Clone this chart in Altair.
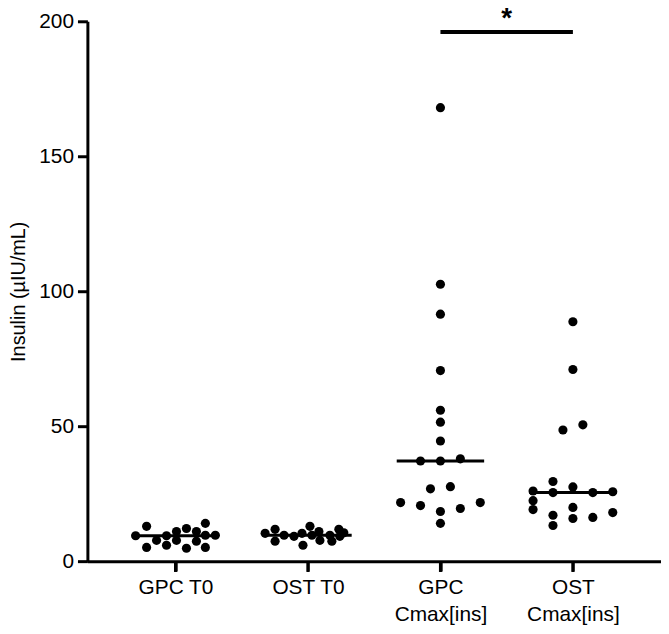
import json
import altair as alt
import pandas as pd

categories = ["GPC T0", "OST T0", "GPC Cmax[ins]", "OST Cmax[ins]"]

gpc_t0_vals = [9.4, 12.9, 5.1, 7.7, 9.4, 5.9, 11.0, 7.7, 12.1, 4.8, 11.0, 7.4, 14.0, 9.6, 5.1, 9.6]
gpc_t0_slot = [-40, -29, -29, -19, -9, -9, 1, 1, 11, 11, 21, 21, 30, 30, 30, 40]

ost_t0_vals = [10.3, 11.8, 7.4, 9.6, 9.2, 10.3, 5.9, 12.9, 9.6, 11.0, 7.7, 9.6, 7.4, 11.8, 9.2, 10.5]
ost_t0_slot = [-43, -33, -33, -24, -14, -6, -5, 2, 4, 11, 12, 22, 24, 31, 32, 36]

gpc_cmax_vals = [168.0, 102.6, 91.5, 70.6, 55.9, 51.5, 44.5, 37.1, 37.1, 37.9,
                 26.8, 27.6, 21.7, 20.6, 18.4, 19.5, 21.7, 14.0]
gpc_cmax_slot = [0, 0, 0, 0, 0, 0, 0, -20, 0, 20, -10, 10, -40, -20, 0, 20, 40, 0]

ost_cmax_vals = [88.7, 71.0, 48.6, 50.5, 29.5, 26.0, 25.4, 27.5, 25.4, 25.7,
                 22.4, 19.1, 19.9, 17.0, 15.8, 16.2, 18.0, 13.2]
ost_cmax_slot = [0, 0, -10, 10, -20, -40, -20, 0, 20, 40, -40, -40, 0, -20, 0, 20, 40, -20]

sig_from = [2]
sig_to = [3]
sig_level = [196]
sig_text = ["*"]

SLOT_PER_STEP = 133.0   # jitter slots are expressed per category step
HALF_MEDIAN = 0.33      # half-length of the median line, in category steps

rows = []
for i, (vals, slots) in enumerate(zip([gpc_t0_vals, ost_t0_vals, gpc_cmax_vals, ost_cmax_vals],
                                      [gpc_t0_slot, ost_t0_slot, gpc_cmax_slot, ost_cmax_slot])):
    for v, s in zip(vals, slots):
        rows.append({"idx": i, "value": v, "slot": s})
df = pd.DataFrame(rows)

cats_df = pd.DataFrame({"idx": list(range(len(categories)))})
sig = pd.DataFrame({"from": sig_from, "to": sig_to, "y": sig_level, "label": sig_text})

label_arr = json.dumps(categories)
xscale = alt.Scale(domain=[-0.665, 3.665], nice=False, zero=False)
yscale = alt.Scale(domain=[0, 200], nice=False)

xaxis = alt.Axis(
    title=None,
    values=list(range(len(categories))),
    labelExpr=f"indexof({label_arr}[datum.value], 'Cmax') >= 0 ? split({label_arr}[datum.value], ' ') : {label_arr}[datum.value]",
    labelLineHeight=27,
    labelPadding=6,
    labelAngle=0,
    ticks=True,
    zindex=1,
)
yaxis = alt.Axis(
    title="Insulin (µIU/mL)",
    values=[0, 50, 100, 150, 200],
    titlePadding=10,
)

points = alt.Chart(df).transform_calculate(
    xpos=f"datum.idx + datum.slot / {SLOT_PER_STEP}"
).mark_circle(size=85, color="black", opacity=1).encode(
    x=alt.X("xpos:Q", scale=xscale, axis=xaxis),
    y=alt.Y("value:Q", scale=yscale, axis=yaxis),
)

medians = alt.Chart(df).transform_aggregate(
    med="median(value)", groupby=["idx"]
).transform_calculate(
    x0=f"datum.idx - {HALF_MEDIAN}", x1=f"datum.idx + {HALF_MEDIAN}"
).mark_rule(color="black", strokeWidth=3).encode(
    x=alt.X("x0:Q", scale=xscale, axis=xaxis),
    x2="x1:Q",
    y=alt.Y("med:Q", scale=yscale),
)

xticks = alt.Chart(cats_df).mark_rule(color="black", strokeWidth=3, clip=False).encode(
    x=alt.X("idx:Q", scale=xscale, axis=xaxis),
    y=alt.datum(0, scale=yscale),
    y2=alt.datum(-4),
)

bar = alt.Chart(sig).mark_rule(color="black", strokeWidth=4, clip=False).encode(
    x=alt.X("from:Q", scale=xscale, axis=xaxis),
    x2="to:Q",
    y=alt.Y("y:Q", scale=yscale),
)

star = alt.Chart(sig).transform_calculate(
    mid="(datum.from + datum.to) / 2"
).mark_text(
    color="black", fontSize=28, fontWeight="bold", font="Liberation Sans",
    baseline="bottom", dy=1, clip=False
).encode(
    x=alt.X("mid:Q", scale=xscale, axis=xaxis),
    y=alt.Y("y:Q", scale=yscale),
    text="label:N",
)

chart = alt.layer(medians, points, xticks, bar, star).properties(
    width=578,
    height=544,
    padding={"left": 80, "top": 11, "right": 0, "bottom": 71},
    autosize="none",
).configure_view(stroke=None).configure_axis(
    grid=False,
    domainColor="black",
    domainWidth=3,
    tickColor="black",
    tickWidth=3,
    tickSize=10,
    labelFont="Liberation Sans",
    labelFontSize=21,
    labelColor="black",
    titleFont="Liberation Sans",
    titleFontSize=20,
    titleFontWeight="normal",
    titleColor="black",
    labelPadding=4,
)

chart.save("out.html", embed_options={"renderer": "svg", "actions": False})
